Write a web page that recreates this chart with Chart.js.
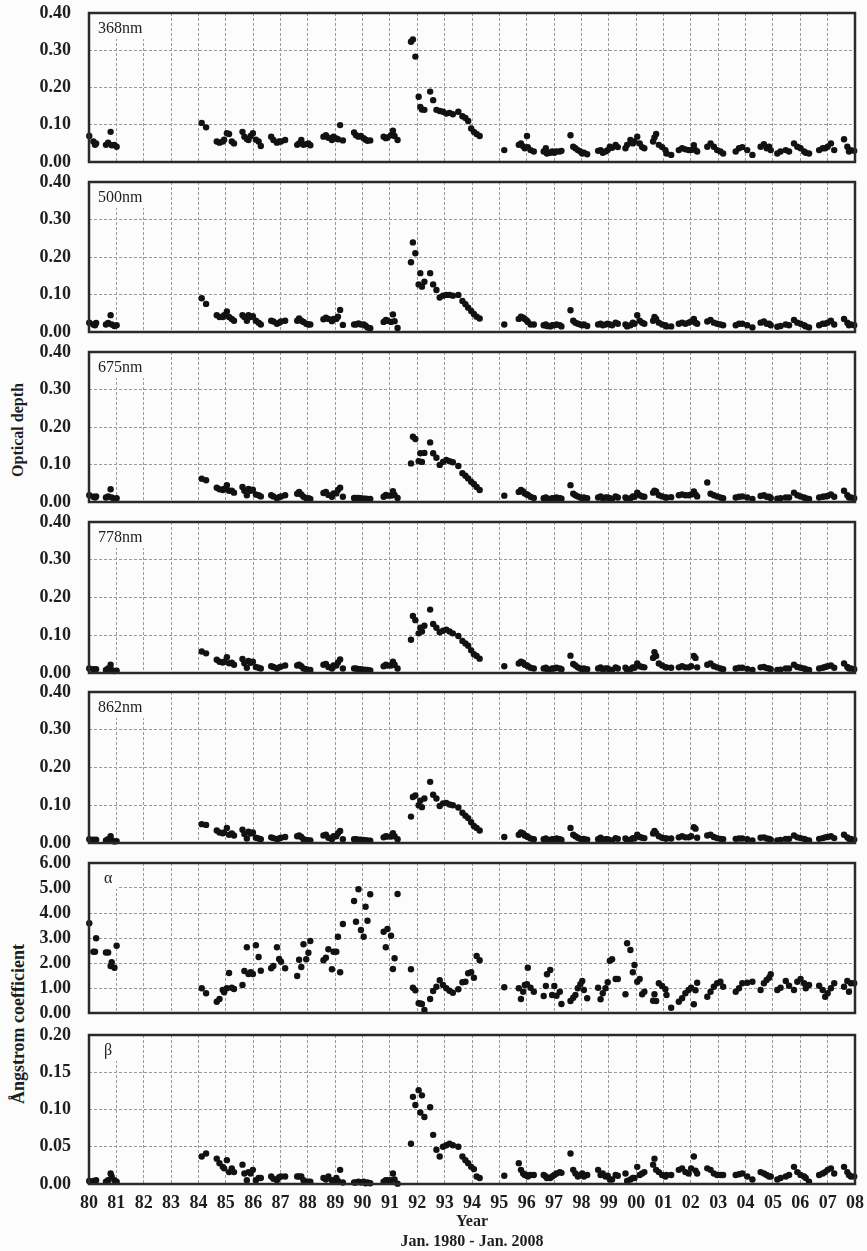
<!DOCTYPE html>
<html>
<head>
<meta charset="utf-8">
<title>Optical depth and Ångstrom coefficients 1980-2008</title>
<script src="https://cdn.jsdelivr.net/npm/chart.js@4.4.0/dist/chart.umd.min.js"></script>
<style>
  html, body { margin: 0; padding: 0; background: #fcfcfc; }
  #page { position: relative; width: 867px; height: 1251px; overflow: hidden;
          font-family: "Liberation Serif", "DejaVu Serif", serif; }
  .panel { position: absolute; left: 0; width: 867px; }
  .ylab { position: absolute; font-weight: bold; font-size: 16px; color: #1e1e1e;
          white-space: nowrap; transform: translate(-50%, -50%) rotate(-90deg); }
</style>
</head>
<body>
<div id="page">
  <div class="ylab" style="left:18px; top:430px;">Optical depth</div>
  <div class="ylab" style="left:18px; top:1024px; font-size:18px;">Ångstrom coefficient</div>
</div>
<script>
// observation dates as decimal year (100 = 2000)
const obsYear = [
  80.01, 80.16, 80.22, 80.26, 80.62, 80.70, 80.79, 80.83, 80.93, 81.01,
  84.12, 84.28, 84.67, 84.77, 84.89, 84.94, 85.04, 85.12, 85.22, 85.30,
  85.61, 85.68, 85.77, 85.83, 85.91, 85.99, 86.10, 86.20, 86.28,
  86.66, 86.74, 86.87, 86.95, 87.02, 87.17,
  87.61, 87.68, 87.76, 87.84, 87.94, 88.02, 88.09,
  88.57, 88.66, 88.75, 88.88, 88.94, 89.04, 89.10, 89.18, 89.28,
  89.69, 89.76, 89.85, 89.94, 90.04, 90.11, 90.18, 90.28,
  90.77, 90.85, 90.91, 91.04, 91.11, 91.17, 91.28,
  91.77, 91.84, 91.93, 92.05, 92.11, 92.17, 92.26,
  92.47, 92.58, 92.70, 92.82, 92.94, 93.06, 93.18, 93.30, 93.50, 93.65, 93.76, 93.86, 93.97, 94.07, 94.17, 94.28,
  95.18, 95.71, 95.79, 95.87, 95.93, 96.01, 96.04, 96.14, 96.26,
  96.62, 96.70, 96.74, 96.86, 96.93, 97.01, 97.09, 97.21, 97.27,
  97.60, 97.70, 97.78, 97.87, 97.96, 98.03, 98.09, 98.21,
  98.61, 98.70, 98.78, 98.88, 98.96, 99.04, 99.12, 99.25, 99.33,
  99.61, 99.67, 99.79, 99.88, 99.94, 100.04, 100.13, 100.22, 100.30,
  100.62, 100.67, 100.73, 100.83, 100.95, 101.07, 101.11, 101.28,
  101.56, 101.68, 101.80, 101.92, 102.01, 102.11, 102.17, 102.23,
  102.60, 102.72, 102.84, 102.96, 103.08, 103.18,
  103.64, 103.76, 103.88, 104.06, 104.25,
  104.55, 104.67, 104.77, 104.86, 104.92, 105.16, 105.28,
  105.47, 105.59, 105.77, 105.89, 106.01, 106.14, 106.20, 106.32,
  106.69, 106.82, 106.91, 107.00, 107.12, 107.24,
  107.60, 107.72, 107.78, 107.85, 107.97
];

const tau368 = [
  0.070, 0.055, 0.046, 0.050, 0.046, 0.052, 0.081, 0.045, 0.046, 0.041,
  0.105, 0.093, 0.055, 0.052, 0.055, 0.060, 0.077, 0.075, 0.055, 0.050,
  0.081, 0.068, 0.062, 0.059, 0.070, 0.077, 0.060, 0.055, 0.043,
  0.068, 0.059, 0.052, 0.055, 0.055, 0.059,
  0.046, 0.050, 0.059, 0.046, 0.048, 0.050, 0.045,
  0.068, 0.072, 0.065, 0.059, 0.068, 0.063, 0.061, 0.099, 0.058,
  0.079, 0.072, 0.068, 0.070, 0.064, 0.060, 0.057, 0.058,
  0.068, 0.064, 0.066, 0.072, 0.084, 0.070, 0.059,
  0.323, 0.329, 0.283, 0.175, 0.148, 0.141, 0.140,
  0.189, 0.166, 0.140, 0.137, 0.135, 0.130, 0.132, 0.128, 0.135, 0.123, 0.118, 0.110, 0.090, 0.081, 0.075, 0.070,
  0.032, 0.046, 0.050, 0.042, 0.037, 0.070, 0.040, 0.032, 0.028,
  0.028, 0.037, 0.023, 0.025, 0.028, 0.025, 0.028, 0.028, 0.030,
  0.072, 0.041, 0.037, 0.032, 0.028, 0.023, 0.025, 0.021,
  0.030, 0.032, 0.025, 0.028, 0.032, 0.041, 0.038, 0.046, 0.040,
  0.037, 0.046, 0.059, 0.050, 0.055, 0.068, 0.050, 0.040, 0.037,
  0.055, 0.066, 0.075, 0.046, 0.040, 0.032, 0.023, 0.019,
  0.032, 0.037, 0.034, 0.032, 0.032, 0.045, 0.032, 0.028,
  0.041, 0.050, 0.041, 0.032, 0.028, 0.023,
  0.028, 0.037, 0.040, 0.032, 0.019,
  0.041, 0.048, 0.037, 0.041, 0.032, 0.023, 0.028,
  0.032, 0.028, 0.050, 0.041, 0.037, 0.028, 0.025, 0.023,
  0.032, 0.037, 0.037, 0.041, 0.050, 0.032,
  0.061, 0.041, 0.028, 0.032, 0.030
];

const tau500 = [
  0.025, 0.020, 0.018, 0.024, 0.020, 0.024, 0.045, 0.020, 0.016, 0.018,
  0.090, 0.075, 0.045, 0.040, 0.040, 0.045, 0.055, 0.040, 0.035, 0.030,
  0.045, 0.040, 0.030, 0.045, 0.040, 0.042, 0.030, 0.025, 0.020,
  0.030, 0.028, 0.022, 0.025, 0.028, 0.030,
  0.030, 0.036, 0.030, 0.027, 0.022, 0.020, 0.020,
  0.034, 0.038, 0.035, 0.029, 0.035, 0.035, 0.041, 0.059, 0.019,
  0.020, 0.020, 0.023, 0.020, 0.020, 0.017, 0.012, 0.010,
  0.027, 0.032, 0.030, 0.027, 0.047, 0.029, 0.011,
  0.186, 0.239, 0.210, 0.127, 0.157, 0.121, 0.134,
  0.157, 0.127, 0.112, 0.092, 0.097, 0.099, 0.099, 0.097, 0.099, 0.083, 0.074, 0.065, 0.056, 0.048, 0.041, 0.036,
  0.020, 0.035, 0.041, 0.038, 0.035, 0.030, 0.027, 0.020, 0.020,
  0.018, 0.020, 0.016, 0.015, 0.018, 0.018, 0.020, 0.018, 0.015,
  0.058, 0.030, 0.025, 0.022, 0.020, 0.018, 0.020, 0.016,
  0.020, 0.022, 0.018, 0.020, 0.022, 0.020, 0.018, 0.025, 0.022,
  0.020, 0.015, 0.018, 0.025, 0.022, 0.045, 0.030, 0.025, 0.022,
  0.030, 0.040, 0.035, 0.025, 0.020, 0.018, 0.015, 0.015,
  0.022, 0.025, 0.022, 0.025, 0.028, 0.035, 0.025, 0.022,
  0.028, 0.032, 0.025, 0.022, 0.020, 0.018,
  0.018, 0.022, 0.022, 0.018, 0.012,
  0.025, 0.028, 0.022, 0.022, 0.018, 0.014, 0.016,
  0.020, 0.018, 0.032, 0.025, 0.022, 0.018, 0.015, 0.012,
  0.018, 0.022, 0.022, 0.025, 0.030, 0.020,
  0.035, 0.025, 0.018, 0.020, 0.018
];

const tau675 = [
  0.018, 0.014, 0.012, 0.015, 0.012, 0.015, 0.034, 0.012, 0.008, 0.010,
  0.062, 0.058, 0.038, 0.034, 0.032, 0.035, 0.045, 0.030, 0.030, 0.025,
  0.040, 0.030, 0.018, 0.035, 0.030, 0.033, 0.020, 0.018, 0.015,
  0.018, 0.015, 0.010, 0.013, 0.015, 0.018,
  0.022, 0.027, 0.020, 0.014, 0.010, 0.010, 0.008,
  0.024, 0.027, 0.019, 0.014, 0.023, 0.023, 0.032, 0.038, 0.014,
  0.011, 0.011, 0.011, 0.010, 0.009, 0.009, 0.008, 0.008,
  0.014, 0.019, 0.017, 0.017, 0.029, 0.019, 0.011,
  0.103, 0.174, 0.168, 0.109, 0.130, 0.107, 0.131,
  0.159, 0.130, 0.118, 0.099, 0.107, 0.112, 0.109, 0.106, 0.096, 0.077, 0.070, 0.063, 0.054, 0.048, 0.040, 0.032,
  0.017, 0.027, 0.032, 0.028, 0.023, 0.020, 0.019, 0.014, 0.011,
  0.010, 0.012, 0.009, 0.008, 0.010, 0.010, 0.012, 0.010, 0.009,
  0.045, 0.022, 0.018, 0.015, 0.012, 0.010, 0.012, 0.010,
  0.012, 0.015, 0.010, 0.012, 0.012, 0.010, 0.008, 0.015, 0.012,
  0.012, 0.008, 0.010, 0.015, 0.014, 0.025, 0.018, 0.015, 0.014,
  0.025, 0.030, 0.028, 0.018, 0.015, 0.012, 0.012, 0.013,
  0.018, 0.020, 0.018, 0.018, 0.020, 0.028, 0.020, 0.015,
  0.052, 0.022, 0.018, 0.015, 0.012, 0.010,
  0.012, 0.014, 0.015, 0.012, 0.008,
  0.016, 0.018, 0.014, 0.014, 0.011, 0.009, 0.010,
  0.012, 0.012, 0.025, 0.018, 0.015, 0.012, 0.010, 0.008,
  0.012, 0.014, 0.015, 0.016, 0.020, 0.014,
  0.030, 0.018, 0.012, 0.012, 0.010
];

const tau778 = [
  0.012, 0.010, 0.008, 0.010, 0.008, 0.012, 0.022, 0.008, 0.005, 0.006,
  0.057, 0.052, 0.035, 0.030, 0.028, 0.030, 0.042, 0.026, 0.027, 0.022,
  0.037, 0.026, 0.014, 0.032, 0.027, 0.030, 0.016, 0.014, 0.012,
  0.018, 0.016, 0.012, 0.015, 0.017, 0.020,
  0.020, 0.022, 0.018, 0.012, 0.010, 0.008, 0.008,
  0.022, 0.024, 0.016, 0.012, 0.020, 0.020, 0.028, 0.036, 0.012,
  0.012, 0.012, 0.010, 0.010, 0.009, 0.008, 0.008, 0.007,
  0.018, 0.022, 0.020, 0.020, 0.030, 0.022, 0.012,
  0.088, 0.151, 0.140, 0.105, 0.120, 0.110, 0.125,
  0.168, 0.130, 0.120, 0.108, 0.112, 0.115, 0.110, 0.105, 0.098, 0.085, 0.078, 0.072, 0.060, 0.050, 0.045, 0.038,
  0.018, 0.025, 0.030, 0.027, 0.022, 0.020, 0.018, 0.014, 0.012,
  0.012, 0.014, 0.010, 0.009, 0.012, 0.012, 0.014, 0.012, 0.010,
  0.046, 0.024, 0.020, 0.015, 0.012, 0.010, 0.012, 0.010,
  0.012, 0.015, 0.010, 0.012, 0.012, 0.008, 0.008, 0.015, 0.012,
  0.014, 0.008, 0.010, 0.015, 0.014, 0.025, 0.018, 0.016, 0.015,
  0.040, 0.055, 0.045, 0.025, 0.020, 0.015, 0.015, 0.014,
  0.015, 0.018, 0.015, 0.015, 0.018, 0.045, 0.040, 0.015,
  0.022, 0.025, 0.018, 0.015, 0.012, 0.010,
  0.012, 0.014, 0.014, 0.011, 0.008,
  0.015, 0.016, 0.013, 0.012, 0.010, 0.008, 0.009,
  0.012, 0.012, 0.022, 0.016, 0.014, 0.012, 0.010, 0.008,
  0.012, 0.014, 0.016, 0.018, 0.020, 0.014,
  0.025, 0.016, 0.012, 0.012, 0.010
];

const tau862 = [
  0.010, 0.009, 0.007, 0.009, 0.007, 0.010, 0.018, 0.007, 0.004, 0.005,
  0.050, 0.048, 0.033, 0.028, 0.026, 0.028, 0.040, 0.022, 0.025, 0.020,
  0.035, 0.024, 0.012, 0.030, 0.025, 0.028, 0.014, 0.012, 0.010,
  0.015, 0.013, 0.010, 0.012, 0.014, 0.016,
  0.018, 0.020, 0.016, 0.010, 0.008, 0.007, 0.007,
  0.020, 0.022, 0.014, 0.010, 0.018, 0.018, 0.026, 0.032, 0.010,
  0.010, 0.010, 0.009, 0.009, 0.008, 0.007, 0.007, 0.006,
  0.015, 0.018, 0.017, 0.017, 0.026, 0.018, 0.010,
  0.070, 0.122, 0.126, 0.100, 0.112, 0.095, 0.118,
  0.162, 0.128, 0.118, 0.098, 0.105, 0.106, 0.102, 0.100, 0.094, 0.080, 0.072, 0.066, 0.055, 0.045, 0.040, 0.033,
  0.016, 0.022, 0.028, 0.025, 0.020, 0.018, 0.016, 0.012, 0.010,
  0.010, 0.012, 0.008, 0.008, 0.010, 0.010, 0.012, 0.010, 0.008,
  0.040, 0.022, 0.018, 0.014, 0.011, 0.009, 0.011, 0.009,
  0.010, 0.014, 0.009, 0.010, 0.010, 0.007, 0.007, 0.013, 0.011,
  0.012, 0.007, 0.009, 0.013, 0.012, 0.022, 0.016, 0.014, 0.013,
  0.025, 0.032, 0.026, 0.018, 0.014, 0.012, 0.012, 0.012,
  0.015, 0.018, 0.015, 0.015, 0.018, 0.042, 0.038, 0.014,
  0.020, 0.022, 0.016, 0.013, 0.011, 0.010,
  0.011, 0.012, 0.012, 0.010, 0.007,
  0.014, 0.015, 0.012, 0.011, 0.009, 0.007, 0.008,
  0.011, 0.011, 0.020, 0.015, 0.013, 0.011, 0.009, 0.007,
  0.011, 0.013, 0.015, 0.016, 0.018, 0.013,
  0.022, 0.015, 0.011, 0.011, 0.009
];

const alpha = [
  3.59, 2.45, 2.45, 2.99, 2.42, 2.42, 1.88, 2.03, 1.81, 2.69,
  0.99, 0.79, 0.45, 0.56, 0.92, 0.83, 0.99, 1.60, 1.01, 0.96,
  1.12, 1.68, 2.63, 1.56, 1.63, 1.56, 2.71, 2.24, 1.69,
  1.79, 1.88, 2.63, 2.16, 2.05, 1.79,
  1.48, 2.13, 1.84, 2.75, 2.15, 2.41, 2.88,
  2.11, 2.21, 2.55, 1.75, 2.45, 2.45, 3.05, 1.63, 3.56,
  4.48, 3.65, 4.95, 3.32, 3.05, 4.25, 3.69, 4.75,
  3.25, 2.63, 3.36, 3.09, 1.76, 2.19, 4.76,
  1.75, 1.01, 0.91, 0.39, 0.38, 0.36, 0.12,
  0.56, 0.88, 1.05, 1.31, 1.12, 0.99, 0.89, 0.81, 0.95, 1.23, 1.25, 1.59, 1.63, 1.41, 2.28, 2.11,
  1.03, 0.99, 0.56, 0.85, 1.12, 1.15, 1.81, 1.01, 0.85,
  0.68, 1.08, 1.55, 1.72, 0.72, 1.08, 0.69, 0.85, 0.36,
  0.48, 0.61, 0.72, 0.99, 1.15, 1.28, 0.92, 0.59,
  1.01, 0.55, 0.79, 0.99, 1.23, 2.09, 2.15, 1.36, 1.36,
  0.75, 2.79, 2.52, 1.63, 1.92, 1.25, 1.36, 0.75, 0.85,
  0.49, 0.75, 0.48, 1.19, 1.08, 0.95, 0.72, 0.21,
  0.45, 0.59, 0.79, 0.92, 1.01, 0.35, 0.91, 1.21,
  0.65, 0.85, 1.05, 1.19, 1.25, 1.05,
  0.85, 0.99, 1.19, 1.21, 1.25,
  0.92, 1.19, 1.32, 1.41, 1.55, 0.92, 1.01,
  1.28, 1.09, 0.92, 1.25, 1.36, 1.19, 0.99, 1.12,
  1.09, 0.92, 0.65, 0.79, 0.99, 1.19,
  1.05, 1.28, 0.85, 1.19, 1.19
];

const beta = [
  0.004, 0.004, 0.003, 0.005, 0.003, 0.005, 0.014, 0.010, 0.005, 0.003,
  0.037, 0.041, 0.034, 0.028, 0.023, 0.021, 0.032, 0.016, 0.021, 0.016,
  0.026, 0.014, 0.005, 0.016, 0.014, 0.019, 0.005, 0.008, 0.008,
  0.010, 0.007, 0.005, 0.009, 0.010, 0.010,
  0.010, 0.010, 0.010, 0.005, 0.003, 0.003, 0.003,
  0.008, 0.006, 0.010, 0.005, 0.003, 0.008, 0.004, 0.019, 0.002,
  0.002, 0.002, 0.003, 0.002, 0.003, 0.001, 0.002, 0.001,
  0.003, 0.005, 0.005, 0.005, 0.014, 0.006, 0.0005,
  0.054, 0.117, 0.106, 0.126, 0.096, 0.119, 0.090,
  0.103, 0.066, 0.046, 0.037, 0.050, 0.052, 0.054, 0.052, 0.050, 0.037, 0.032, 0.028, 0.023, 0.020, 0.010, 0.008,
  0.011, 0.028, 0.019, 0.014, 0.012, 0.012, 0.010, 0.012, 0.012,
  0.012, 0.010, 0.008, 0.008, 0.010, 0.012, 0.014, 0.016, 0.015,
  0.041, 0.019, 0.014, 0.010, 0.012, 0.014, 0.010, 0.012,
  0.019, 0.012, 0.014, 0.010, 0.011, 0.006, 0.006, 0.012, 0.011,
  0.014, 0.004, 0.006, 0.008, 0.008, 0.023, 0.012, 0.014, 0.016,
  0.026, 0.034, 0.019, 0.016, 0.012, 0.010, 0.012, 0.012,
  0.019, 0.021, 0.016, 0.014, 0.021, 0.037, 0.018, 0.014,
  0.021, 0.019, 0.014, 0.012, 0.012, 0.012,
  0.012, 0.013, 0.014, 0.010, 0.006,
  0.016, 0.014, 0.012, 0.010, 0.010, 0.006, 0.008,
  0.010, 0.012, 0.023, 0.016, 0.012, 0.010, 0.008, 0.003,
  0.012, 0.014, 0.016, 0.019, 0.021, 0.014,
  0.023, 0.016, 0.012, 0.010, 0.010
];

const yearLabels = [
  "80", "81", "82", "83", "84", "85", "86", "87", "88", "89",
  "90", "91", "92", "93", "94", "95", "96", "97", "98", "99",
  "00", "01", "02", "03", "04", "05", "06", "07", "08"
];

const panelNames = ["368nm", "500nm", "675nm", "778nm", "862nm", "α", "β"];
const panelSeries = [tau368, tau500, tau675, tau778, tau862, alpha, beta];
const panelMax  = [0.4, 0.4, 0.4, 0.4, 0.4, 6, 0.2];
const panelStep = [0.1, 0.1, 0.1, 0.1, 0.1, 1, 0.05];

panelSeries.forEach((s, i) => {
  if (s.length !== obsYear.length) console.error(panelNames[i], s.length, obsYear.length);
});

// frame edges (top, bottom) of each plot box on the page
const FRAMES = [[13, 162], [182, 332], [352, 502], [522, 673], [692, 843], [863, 1013], [1035, 1184]];
const PAD = 14;
const PAGE_H = 1251;
const BG = "#fcfcfc";
const INK = "#1e1e1e";
const GRID = "#9a9a9a";
const FONT = "'Liberation Serif', 'DejaVu Serif', serif";

// label box in the upper-left corner + heavy frame round the plot area
const panelDecor = {
  id: "panelDecor",
  beforeDatasetsDraw(chart, args, opts) {
    const { ctx, chartArea: a } = chart;
    ctx.save();
    ctx.font = `16px ${FONT}`;
    const w = ctx.measureText(opts.text).width;
    const dx = opts.text.length > 2 ? 9 : 15;
    ctx.fillStyle = BG;
    ctx.fillRect(a.left + 1, a.top + 1, dx + w + 5, 25);
    ctx.fillStyle = INK;
    ctx.textBaseline = "alphabetic";
    ctx.fillText(opts.text, a.left + dx, a.top + 20);
    ctx.restore();
  },
  afterDraw(chart) {
    const { ctx, chartArea: a } = chart;
    ctx.save();
    ctx.strokeStyle = "#2a2a2a";
    ctx.lineWidth = 2.5;
    ctx.strokeRect(a.left, a.top, a.right - a.left, a.bottom - a.top);
    ctx.restore();
  }
};

const page = document.getElementById("page");

panelNames.forEach((name, i) => {
  const [top, bottom] = FRAMES[i];
  const last = i === panelNames.length - 1;
  const boxTop = top - PAD;
  const boxH = last ? PAGE_H - boxTop : bottom - top + 2 * PAD;

  const box = document.createElement("div");
  box.className = "panel";
  box.style.top = boxTop + "px";
  box.style.height = boxH + "px";
  const cv = document.createElement("canvas");
  box.appendChild(cv);
  page.appendChild(box);

  const series = panelSeries[i];

  new Chart(cv, {
    type: "scatter",
    data: {
      datasets: [{
        data: obsYear.map((x, k) => ({ x, y: series[k] })),
        backgroundColor: "#121212",
        borderWidth: 0,
        pointRadius: 3.2,
        pointHoverRadius: 3.2,
        clip: 6,
      }]
    },
    options: {
      responsive: true,
      maintainAspectRatio: false,
      animation: false,
      events: [],
      layout: { padding: { top: PAD, right: 12, bottom: last ? 0 : PAD, left: 0 } },
      plugins: {
        legend: { display: false },
        tooltip: { enabled: false },
        panelDecor: { text: name },
      },
      scales: {
        x: {
          type: "linear",
          min: 80,
          max: 108,
          // invisible tick marks give the label gap without extra scale padding
          grid: { color: GRID, lineWidth: 1, drawTicks: last, tickLength: 9, tickColor: "rgba(0,0,0,0)" },
          border: { display: false, dash: [3, 2] },
          ticks: {
            display: last,
            stepSize: 1,
            autoSkip: false,
            maxRotation: 0,
            padding: 0,
            color: INK,
            font: { family: FONT, size: 18, weight: "bold" },
            callback: v => yearLabels[Math.round(v) - 80],
          },
          title: {
            display: last,
            text: ["Year", "Jan. 1980 - Jan. 2008"],
            color: INK,
            font: { family: FONT, size: 16, weight: "bold" },
            padding: { top: 0, bottom: 0 },
          },
          afterFit: s => { s.height = last ? PAGE_H - bottom : 0; },
        },
        y: {
          min: 0,
          max: panelMax[i],
          grid: { color: GRID, lineWidth: 1, drawTicks: true, tickLength: 18, tickColor: "rgba(0,0,0,0)" },
          border: { display: false, dash: [3, 2] },
          ticks: {
            stepSize: panelStep[i],
            padding: 0,
            color: INK,
            font: { family: FONT, size: 18, weight: "bold" },
            callback: v => v.toFixed(2),
          },
          afterFit: s => { s.width = 89; },
        }
      }
    },
    plugins: [panelDecor]
  });
});
</script>
</body>
</html>
